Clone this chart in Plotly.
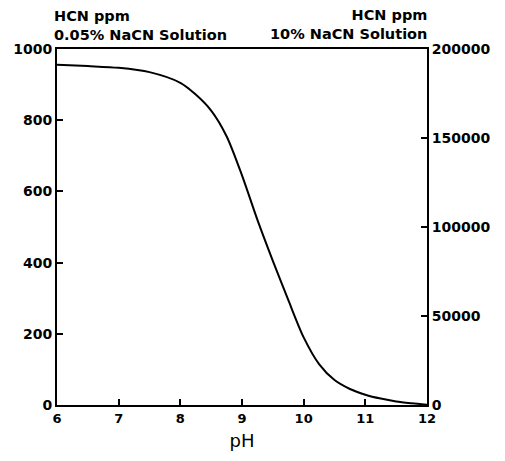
import plotly.graph_objects as go

# Data
ph = [6.0, 6.5, 7.0, 7.5, 8.0, 8.25, 8.5, 8.75, 9.0, 9.25, 9.5, 9.75,
      10.0, 10.25, 10.5, 10.75, 11.0, 11.25, 11.5, 11.75, 12.0]
hcn_ppm = [956, 952, 947, 935, 905, 872, 827, 755, 645, 520, 405, 295,
           190, 115, 70, 45, 29, 18, 10, 5, 1]

x_ticks = [6, 7, 8, 9, 10, 11, 12]
y_ticks = [0, 200, 400, 600, 800, 1000]
y2_ticks = [0, 50000, 100000, 150000, 200000]
y2_labels = ["0", "50000", "100000", "150000", "200000"]
left_title = "HCN ppm<br>0.05% NaCN Solution"
right_title = "HCN ppm<br>10% NaCN Solution"

FONT = "DejaVu Sans"
xtickfont = dict(family=FONT, size=13, color="black", weight="bold")
ytickfont = dict(family=FONT, size=14, color="black", weight="bold")
titlefont = dict(family=FONT, size=14.5, color="black", weight="bold")

fig = go.Figure()
fig.add_trace(go.Scatter(x=ph, y=hcn_ppm, mode="lines",
                         line=dict(color="black", width=2, shape="spline",
                                   smoothing=0.8),
                         showlegend=False, hoverinfo="skip"))
# invisible trace to activate the right axis
fig.add_trace(go.Scatter(x=[ph[0]], y=[0], yaxis="y2", mode="markers",
                         marker=dict(opacity=0), showlegend=False, hoverinfo="skip"))

fig.update_layout(
    template="none",
    width=497, height=453,
    margin=dict(l=49, r=78, t=41, b=56),
    paper_bgcolor="white", plot_bgcolor="white",
    xaxis=dict(range=[6, 12], tickvals=x_ticks, ticks="inside", ticklen=6,
               tickcolor="black", tickwidth=1.5, automargin=False,
               showline=True, linecolor="black", linewidth=2, mirror=True,
               showgrid=False, zeroline=False, tickfont=xtickfont,
               title=dict(text="pH", font=dict(family=FONT, size=18, color="black"),
                          standoff=10)),
    yaxis=dict(range=[0, 1000], tickvals=y_ticks, ticks="inside", ticklen=6,
               tickcolor="black", tickwidth=1.5, automargin=False,
               showline=True, linecolor="black", linewidth=2,
               showgrid=False, zeroline=False, tickfont=ytickfont),
    yaxis2=dict(range=[0, 200000], tickvals=y2_ticks, ticktext=y2_labels,
                overlaying="y", side="right", automargin=False,
                ticks="inside", ticklen=6, tickcolor="black", tickwidth=1.5,
                showline=True, linecolor="black", linewidth=2,
                showgrid=False, zeroline=False, tickfont=ytickfont),
    annotations=[
        dict(text=left_title, xref="paper", yref="paper", x=0, y=1,
             xanchor="left", yanchor="bottom", yshift=5, xshift=-4,
             align="left", showarrow=False, font=titlefont, borderpad=0),
        dict(text=right_title, xref="paper", yref="paper", x=1, y=1,
             xanchor="right", yanchor="bottom", yshift=6, xshift=1,
             align="right", showarrow=False, font=titlefont, borderpad=0),
    ],
)

fig.write_html("out.html")
